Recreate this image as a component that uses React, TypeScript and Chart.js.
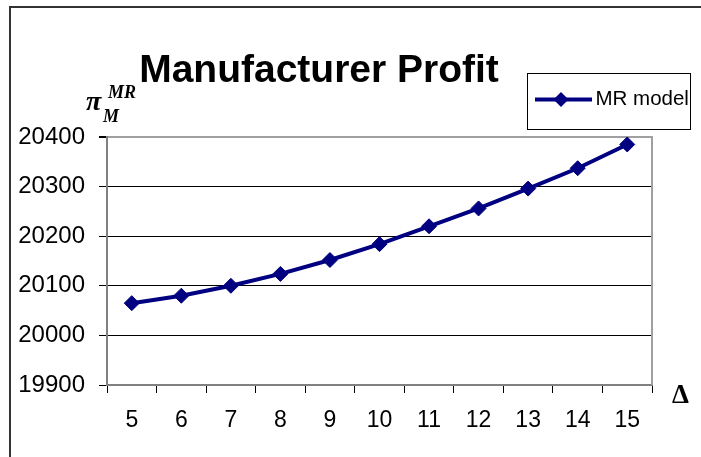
import React, { useEffect, useRef } from "react";
import { Chart, registerables } from "chart.js";

Chart.register(...registerables);

const categories = ["5", "6", "7", "8", "9", "10", "11", "12", "13", "14", "15"];
const mrModel = [20065, 20080, 20100, 20124, 20152, 20184, 20220, 20256, 20296, 20337, 20385];
const yMin = 19900;
const yMax = 20400;
const yStep = 100;
const seriesLabel = "MR model";
const titleText = "Manufacturer Profit";

const NAVY = "#000080";

const decorPlugin = {
  id: "decor",
  beforeDatasetsDraw(chart: any) {
    const { ctx, chartArea } = chart;
    ctx.save();
    ctx.strokeStyle = "#a0a0a0";
    ctx.lineWidth = 2;
    ctx.beginPath();
    ctx.moveTo(chartArea.right, chartArea.top - 1);
    ctx.lineTo(chartArea.right, chartArea.bottom);
    ctx.stroke();
    ctx.restore();
  },
  afterDraw(chart: any) {
    const { ctx } = chart;
    ctx.save();
    // outer frame (top + left)
    ctx.strokeStyle = "#333";
    ctx.lineWidth = 2;
    ctx.beginPath();
    ctx.moveTo(10, 457);
    ctx.lineTo(10, 7);
    ctx.lineTo(701, 7);
    ctx.stroke();

    // title
    ctx.fillStyle = "#000";
    ctx.font = 'bold 39px "Liberation Sans", Arial, sans-serif';
    ctx.textAlign = "center";
    ctx.textBaseline = "alphabetic";
    ctx.fillText(titleText, 319, 82);

    // y-axis label pi_M^MR
    ctx.textAlign = "left";
    ctx.font = 'bold italic 28px "Liberation Serif", serif';
    ctx.fillText("\u03C0", 86, 110);
    ctx.font = 'bold italic 18px "Liberation Serif", serif';
    ctx.fillText("MR", 108, 98);
    ctx.fillText("M", 103, 122);

    // x-axis label Delta
    ctx.font = 'bold 27px "Liberation Serif", serif';
    ctx.fillText("\u0394", 672, 403);

    // legend
    ctx.strokeStyle = "#000";
    ctx.lineWidth = 1;
    ctx.strokeRect(527.5, 73.5, 163, 56);
    ctx.strokeStyle = NAVY;
    ctx.lineWidth = 4;
    ctx.beginPath();
    ctx.moveTo(535, 99.5);
    ctx.lineTo(592, 99.5);
    ctx.stroke();
    ctx.fillStyle = NAVY;
    ctx.beginPath();
    const cx = 561, cy = 99.5, r = 7.5;
    ctx.moveTo(cx - r, cy);
    ctx.lineTo(cx, cy - r);
    ctx.lineTo(cx + r, cy);
    ctx.lineTo(cx, cy + r);
    ctx.closePath();
    ctx.fill();
    ctx.fillStyle = "#000";
    ctx.font = '20.5px "Liberation Sans", Arial, sans-serif';
    ctx.fillText(seriesLabel, 595.5, 105);
    ctx.restore();
  },
};

export default function App() {
  const canvasRef = useRef<HTMLCanvasElement | null>(null);

  useEffect(() => {
    const canvas = canvasRef.current;
    if (!canvas) return;
    const chart = new Chart(canvas, {
      type: "line",
      data: {
        labels: categories,
        datasets: [
          {
            label: seriesLabel,
            data: mrModel,
            borderColor: NAVY,
            backgroundColor: NAVY,
            borderWidth: 4,
            pointStyle: "rectRot",
            pointRadius: 7.5,
            pointBorderWidth: 1,
            pointBackgroundColor: NAVY,
            pointBorderColor: NAVY,
            tension: 0,
            fill: false,
          },
        ],
      },
      options: {
        responsive: false,
        animation: false,
        devicePixelRatio: 1,
        layout: { padding: { top: 137, right: 49, left: 0, bottom: 0 } },
        plugins: {
          legend: { display: false },
          title: { display: false },
          tooltip: { enabled: false },
        },
        scales: {
          x: {
            type: "category",
            offset: true,
            grid: {
              offset: true,
              drawOnChartArea: false,
              drawTicks: true,
              tickLength: 8,
              tickColor: "#000",
            },
            border: { display: true, color: "#808080", width: 2 },
            ticks: {
              color: "#000",
              font: { family: '"Liberation Sans", Arial, sans-serif', size: 23 },
              padding: 14,
              maxRotation: 0,
              autoSkip: false,
            },
            afterFit: (s: any) => {
              s.height = 72;
            },
          },
          y: {
            min: yMin,
            max: yMax,
            ticks: {
              stepSize: yStep,
              color: "#000",
              font: { family: '"Liberation Sans", Arial, sans-serif', size: 24 },
              padding: 14,
              callback: (v: any) => String(v),
            },
            grid: {
              color: (c: any) => (c.tick && c.tick.value === yMax ? "#a0a0a0" : "#000"),
              lineWidth: (c: any) => (c.tick && c.tick.value === yMax ? 2 : 1),
              tickLength: 8,
              tickColor: "#000",
            },
            border: { display: true, color: "#808080", width: 2 },
            afterFit: (s: any) => {
              s.width = 107;
            },
          },
        },
      },
      plugins: [decorPlugin],
    });
    return () => chart.destroy();
  }, []);

  return (
    <div style={{ position: "absolute", left: 0, top: 0, width: 701, height: 457, background: "#fff" }}>
      <canvas ref={canvasRef} width={701} height={457} style={{ display: "block", width: 701, height: 457 }} />
    </div>
  );
}
